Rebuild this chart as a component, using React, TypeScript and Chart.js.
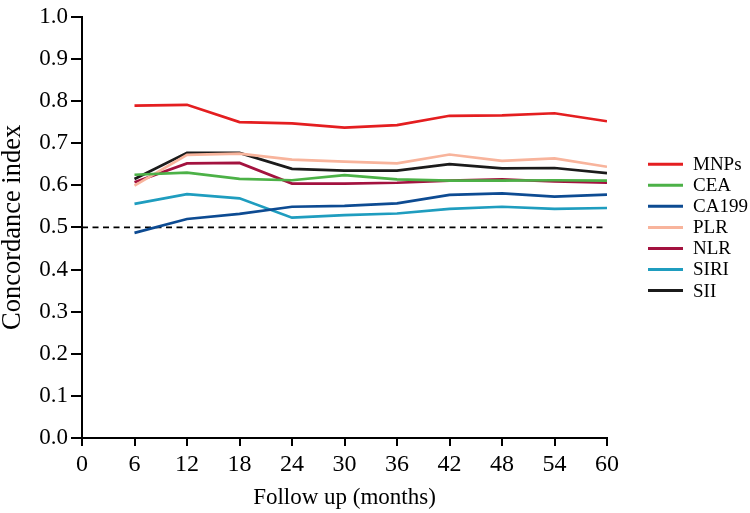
import React, { useEffect, useRef } from "react";
import { Chart, registerables } from "chart.js";

Chart.register(...registerables);

const months = [6, 12, 18, 24, 30, 36, 42, 48, 54, 60];
const xTicks = [0, 6, 12, 18, 24, 30, 36, 42, 48, 54, 60];

const mnps = [0.789, 0.791, 0.750, 0.747, 0.737, 0.743, 0.765, 0.766, 0.771, 0.752];
const cea = [0.625, 0.630, 0.615, 0.612, 0.624, 0.614, 0.611, 0.611, 0.612, 0.611];
const ca199 = [0.487, 0.520, 0.532, 0.549, 0.551, 0.557, 0.577, 0.581, 0.573, 0.578];
const plr = [0.599, 0.672, 0.675, 0.661, 0.656, 0.652, 0.673, 0.658, 0.664, 0.644];
const nlr = [0.607, 0.652, 0.653, 0.604, 0.604, 0.606, 0.611, 0.614, 0.609, 0.606];
const siri = [0.556, 0.579, 0.569, 0.523, 0.529, 0.533, 0.544, 0.549, 0.544, 0.546];
const sii = [0.615, 0.677, 0.677, 0.639, 0.635, 0.635, 0.650, 0.640, 0.641, 0.629];

const seriesNames = ["MNPs", "CEA", "CA199", "PLR", "NLR", "SIRI", "SII"];
const seriesValues = [mnps, cea, ca199, plr, nlr, siri, sii];
const seriesColors = ["#e41e20", "#4cb147", "#0d4b92", "#f8b49c", "#a3123f", "#1f9dbf", "#1b1b1b"];

const refX = [0, 60];
const refY = 0.5;

const FONT = "'Liberation Serif', 'Times New Roman', serif";

const legendPlugin = {
  id: "sideLegend",
  afterDraw(chart: any) {
    const { ctx, chartArea } = chart;
    const items = chart.data.datasets.filter((d: any) => d.showInLegend);
    const spacing = 21.05;
    const cy = (chartArea.top + chartArea.bottom) / 2;
    const x0 = chartArea.right + 41;
    ctx.save();
    ctx.font = `19px ${FONT}`;
    ctx.textBaseline = "middle";
    ctx.textAlign = "left";
    items.forEach((d: any, i: number) => {
      const y = cy + (i - (items.length - 1) / 2) * spacing;
      ctx.strokeStyle = d.borderColor;
      ctx.lineWidth = 3;
      ctx.beginPath();
      ctx.moveTo(x0, y);
      ctx.lineTo(x0 + 35, y);
      ctx.stroke();
      ctx.fillStyle = "#000";
      ctx.fillText(d.label, x0 + 45, y + 1);
    });
    ctx.restore();
  },
};

export default function App() {
  const ref = useRef<HTMLCanvasElement | null>(null);

  useEffect(() => {
    document.body.style.margin = "0";
    if (!ref.current) return;
    Chart.defaults.font.family = FONT;
    Chart.defaults.color = "#000";
    const datasets: any[] = seriesNames.map((name, i) => ({
      label: name,
      data: months.map((m, j) => ({ x: m, y: seriesValues[i][j] })),
      borderColor: seriesColors[i],
      backgroundColor: seriesColors[i],
      borderWidth: 2.7,
      pointRadius: 0,
      tension: 0,
      fill: false,
      showInLegend: true,
    }));
    datasets.push({
      label: "ref",
      data: refX.map((x) => ({ x, y: refY })),
      borderColor: "#000",
      borderWidth: 1.6,
      borderDash: [6, 4.5],
      pointRadius: 0,
      fill: false,
      showInLegend: false,
    });

    const chart = new Chart(ref.current, {
      type: "line",
      data: { datasets },
      plugins: [legendPlugin],
      options: {
        animation: false,
        responsive: false,
        devicePixelRatio: 1,
        font: { family: FONT },
        layout: { padding: { left: 0, right: 143, top: 13, bottom: 0 } },
        plugins: { legend: { display: false }, tooltip: { enabled: false } },
        scales: {
          x: {
            type: "linear",
            min: 0,
            max: 60,
            afterBuildTicks: (scale: any) => {
              scale.ticks = xTicks.map((v) => ({ value: v }));
            },
            afterFit: (scale: any) => {
              scale.height = 75;
            },
            ticks: {
              color: "#000",
              font: { family: FONT, size: 24 },
              padding: 4,
              maxRotation: 0,
              autoSkip: false,
            },
            grid: {
              drawOnChartArea: false,
              drawTicks: true,
              tickLength: 8,
              color: "#000",
              lineWidth: 2,
            },
            border: { display: true, color: "#000", width: 2 },
            title: {
              display: true,
              text: "Follow up (months)",
              color: "#000",
              font: { family: FONT, size: 23, lineHeight: 1.2 },
              padding: { top: 0, bottom: 1 },
            },
          },
          y: {
            type: "linear",
            min: 0,
            max: 1,
            afterFit: (scale: any) => {
              scale.width = 82;
            },
            ticks: {
              stepSize: 0.1,
              color: "#000",
              font: { family: FONT, size: 23 },
              padding: 3,
              callback: (v: any) => Number(v).toFixed(1),
            },
            grid: {
              drawOnChartArea: false,
              drawTicks: true,
              tickLength: 11,
              color: "#000",
              lineWidth: 2,
            },
            border: { display: true, color: "#000", width: 2 },
            title: {
              display: true,
              text: "Concordance index",
              color: "#000",
              font: { family: FONT, size: 26.5, lineHeight: 1.0 },
              padding: { top: 0, bottom: 0 },
            },
          },
        },
      } as any,
    });
    return () => chart.destroy();
  }, []);

  return (
    <div style={{ width: 750, height: 513 }}>
      <canvas ref={ref} width={750} height={513} style={{ width: 750, height: 513, display: "block" }} />
    </div>
  );
}
